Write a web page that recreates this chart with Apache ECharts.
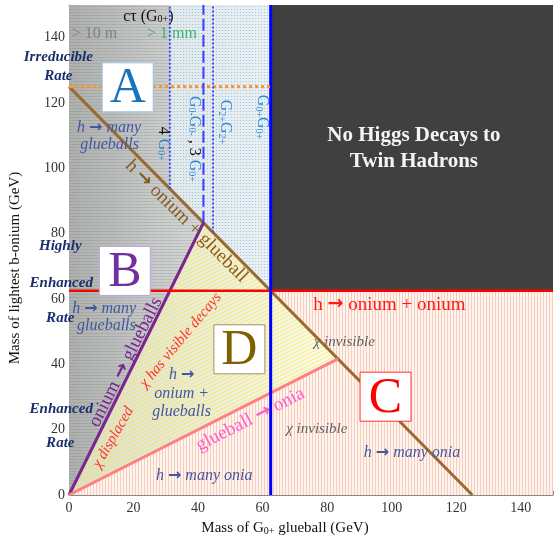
<!DOCTYPE html>
<html lang="en">
<head>
<meta charset="UTF-8">
<title>Twin hadron decay regions</title>
<script src="https://cdn.jsdelivr.net/npm/echarts@6/dist/echarts.min.js"></script>
<style>
  body { margin: 0; background: #fff; }
  #chart { width: 556px; height: 541px; }
</style>
</head>
<body>
<div id="chart"></div>
<script>
const serif = '"Liberation Serif", "DejaVu Serif", serif';

// regions in (glueball mass, onium mass), GeV
const greyZone = [[0, 0], [41.67, 83.33], [62.5, 62.5], [62.5, 150], [0, 150]];
const dotZone = [[31.25, 93.75], [31.25, 150], [62.5, 150], [62.5, 62.5]];
const yellowZone = [[0, 0], [41.67, 83.33], [83.33, 41.67]];
const salmonZone = [[0, 0], [83.33, 41.67], [62.5, 62.5], [150, 62.5], [150, 0]];
const darkZone = [[62.5, 62.5], [62.5, 150], [150, 150], [150, 62.5]];

// boundaries
const brownLine = [[0, 125], [125, 0]];
const purpleLine = [[0, 0], [41.67, 83.33]];
const pinkLine = [[0, 0], [83.33, 41.67]];
const redLine = [[0, 62.5], [150, 62.5]];
const blueLine = [[62.5, 0], [62.5, 150]];
const orangeLine = [[0, 125], [62.5, 125]];
const fourG0Line = [[31.25, 93.75], [31.25, 150]];
const threeG0Line = [[41.67, 83.33], [41.67, 150]];
const g2Line = [[44.64, 80.36], [44.64, 150]];

const xTicks = [0, 20, 40, 60, 80, 100, 120, 140];
const yTicks = [0, 20, 40, 60, 80, 100, 120, 140];

function pattern(w, h, draw) {
    const c = document.createElement('canvas');
    c.width = w; c.height = h;
    draw(c.getContext('2d'));
    return { image: c, repeat: 'repeat' };
}
const hStripes = pattern(4, 3, ctx => {
    ctx.fillStyle = 'rgba(110,110,110,0.2)';
    ctx.fillRect(0, 0, 4, 1);
});
const blueDots = pattern(3, 3, ctx => {
    ctx.fillStyle = 'rgba(80,150,215,0.4)';
    ctx.fillRect(0, 0, 1, 1);
});
const yStripes = pattern(8, 4, ctx => {
    ctx.strokeStyle = 'rgba(240,230,70,0.6)';
    ctx.lineWidth = 1.1;
    ctx.beginPath();
    for (let o = -8; o <= 16; o += 4) { ctx.moveTo(0, o + 4); ctx.lineTo(8, o); }
    ctx.stroke();
});
const vStripes = pattern(3, 1, ctx => {
    ctx.fillStyle = '#fff5f0'; ctx.fillRect(0, 0, 3, 1);
    ctx.fillStyle = '#f9cbb8'; ctx.fillRect(0, 0, 1, 1);
});
function hGrad(a, b) {
    return { type: 'linear', x: 0, y: 0, x2: 1, y2: 0, colorStops: [{ offset: 0, color: a }, { offset: 1, color: b }] };
}

const zones = [
    { pts: salmonZone, fills: [vStripes] },
    { pts: yellowZone, fills: [hGrad('#dcdccc', '#fdfdea'), yStripes] },
    { pts: greyZone, fills: [hGrad('#adb0ad', '#e9eeee'), hStripes] },
    { pts: dotZone, fills: ['rgba(232,241,245,0.75)', blueDots] },
    { pts: darkZone, fills: ['#404040'] }
];

const lines = [
    { d: brownLine, c: '#9a6a30', w: 3, t: 'solid' },
    { d: purpleLine, c: '#7a2590', w: 3, t: 'solid' },
    { d: pinkLine, c: '#ff8080', w: 3, t: 'solid' },
    { d: redLine, c: '#ff0000', w: 2.5, t: 'solid' },
    { d: blueLine, c: '#0000ff', w: 3, t: 'solid' },
    { d: orangeLine, c: '#ff9324', w: 3, t: [3, 3] },
    { d: fourG0Line, c: '#2c3cff', w: 1.8, t: [2, 2] },
    { d: threeG0Line, c: '#3a3aff', w: 2, t: [12, 4] },
    { d: g2Line, c: '#2c3cff', w: 1.8, t: [2, 2] }
];

const notes = [
    { t: 'cτ (G{u|0+})', x: 24.6, y: 146.4, c: '#111', s: 16 },
    { t: '> 10 m', x: 7.9, y: 141.2, c: '#808080', s: 16 },
    { t: '> 1 mm', x: 31.9, y: 141.2, c: '#3cb46e', s: 16 },
    { t: 'Irreducible', x: -3.3, y: 133.9, c: '#1b2f6e', s: 15, i: 1, b: 1 },
    { t: 'Rate', x: -3.3, y: 128.2, c: '#1b2f6e', s: 15, i: 1, b: 1 },
    { t: 'Highly', x: -2.7, y: 76.2, c: '#1b2f6e', s: 15, i: 1, b: 1 },
    { t: 'Enhanced', x: -2.4, y: 65.0, c: '#1b2f6e', s: 15, i: 1, b: 1 },
    { t: 'Rate', x: -2.7, y: 54.1, c: '#1b2f6e', s: 15, i: 1, b: 1 },
    { t: 'Enhanced', x: -2.4, y: 26.4, c: '#1b2f6e', s: 15, i: 1, b: 1 },
    { t: 'Rate', x: -2.7, y: 15.8, c: '#1b2f6e', s: 15, i: 1, b: 1 },
    { t: 'h → many', x: 12.4, y: 112.3, c: '#44579e', s: 16, i: 1 },
    { t: 'glueballs', x: 12.6, y: 107.2, c: '#44579e', s: 16, i: 1 },
    { t: 'h → many', x: 10.9, y: 57.0, c: '#44579e', s: 16, i: 1 },
    { t: 'glueballs', x: 11.6, y: 51.9, c: '#44579e', s: 16, i: 1 },
    { t: 'h → onium + glueball', x: 36.4, y: 83.8, c: '#8b5a1c', s: 19, r: -45 },
    { t: '{k|4 }G{u|0+}', x: 29.2, y: 107.5, c: '#2b80d4', s: 16, r: -90 },
    { t: 'G{u|0-}G{u|0-}{k| , 3 }G{u|0+}', x: 38.9, y: 109.0, c: '#2b8ad6', s: 16, r: -90 },
    { t: 'G{u|2+}G{u|2+}', x: 48.3, y: 114.2, c: '#2b8ad6', s: 16, r: -90 },
    { t: 'G{u|0+}G{u|0+}', x: 59.8, y: 115.7, c: '#2b8ad6', s: 16, r: -90 },
    { t: 'No Higgs Decays to', x: 106.9, y: 109.9, c: '#f4f4f4', s: 21, b: 1 },
    { t: 'Twin Hadrons', x: 106.9, y: 102.0, c: '#f4f4f4', s: 21, b: 1 },
    { t: 'h → onium + onium', x: 99.3, y: 58.3, c: '#ff1a1a', s: 19 },
    { t: 'χ invisible', x: 85.3, y: 46.8, c: '#606060', s: 15, i: 1 },
    { t: 'χ invisible', x: 76.8, y: 20.3, c: '#606060', s: 15, i: 1 },
    { t: 'h → many onia', x: 106.3, y: 12.8, c: '#44579e', s: 16, i: 1 },
    { t: 'h → many onia', x: 41.9, y: 5.8, c: '#44579e', s: 16, i: 1 },
    { t: 'h →', x: 34.9, y: 36.7, c: '#44579e', s: 16, i: 1 },
    { t: 'onium +', x: 34.9, y: 31.0, c: '#44579e', s: 16, i: 1 },
    { t: 'glueballs', x: 34.9, y: 25.5, c: '#44579e', s: 16, i: 1 },
    { t: 'onium → glueballs', x: 17.6, y: 40.7, c: '#7a2590', s: 19, r: 63.4 },
    { t: 'χ has visible decays', x: 34.6, y: 47.4, c: '#ff3030', s: 15, i: 1, r: 50 },
    { t: 'χ displaced', x: 13.7, y: 17.6, c: '#ff3030', s: 15, i: 1, r: 60 },
    { t: 'glueball → onia', x: 56.2, y: 23.1, c: '#ff5cc8', s: 19, r: 27 }
];

const boxes = [
    { t: 'A', x: 18.2, y: 124.8, c: '#1a72bb', b: '#9dc3e6' },
    { t: 'B', x: 17.3, y: 68.6, c: '#7030a0', b: '#b9a2d6' },
    { t: 'D', x: 52.8, y: 44.6, c: '#7f6000', b: '#a89060' },
    { t: 'C', x: 98.1, y: 30.1, c: '#ff0000', b: '#ff3030' }
];

const chart = echarts.init(document.getElementById('chart'));

const series = [];
series.push({
    type: 'custom', z: 1, silent: true,
    data: zones.map((z, i) => [i]),
    renderItem: function (params, api) {
        const z = zones[params.dataIndex];
        const pts = z.pts.map(p => api.coord(p));
        return {
            type: 'group',
            children: z.fills.map(f => ({ type: 'polygon', shape: { points: pts }, style: { fill: f } }))
        };
    }
});
lines.forEach(l => {
    series.push({
        type: 'line', z: 3, silent: true, showSymbol: false, animation: false,
        data: l.d,
        lineStyle: { color: l.c, width: l.w, type: l.t }
    });
});
series.push({
    type: 'custom', z: 5, silent: true,
    data: boxes.map((b, i) => [i]),
    renderItem: function (params, api) {
        const b = boxes[params.dataIndex];
        const p = api.coord([b.x, b.y]);
        return {
            type: 'group', x: p[0], y: p[1],
            children: [
                { type: 'rect', shape: { x: -25.5, y: -24.5, width: 51, height: 49 }, style: { fill: '#fff', stroke: b.b, lineWidth: 1 } },
                { type: 'text', style: { text: b.t, x: 0, y: 2, align: 'center', verticalAlign: 'middle', fill: b.c, fontSize: 50, fontFamily: serif } }
            ]
        };
    }
});
series.push({
    type: 'custom', z: 6, silent: true,
    data: notes.map((n, i) => [i]),
    renderItem: function (params, api) {
        const n = notes[params.dataIndex];
        const p = api.coord([n.x, n.y]);
        const style = {
            fill: n.c, fontSize: n.s, fontFamily: serif,
            fontStyle: n.i ? 'italic' : 'normal', fontWeight: n.b ? 'bold' : 'normal'
        };
        return {
            type: 'text', x: p[0], y: p[1], rotation: (n.r || 0) * Math.PI / 180,
            style: Object.assign({
                text: n.t.replace(/→/g, '{a|→}'), x: 0, y: 0, align: 'center', verticalAlign: 'middle',
                rich: {
                    a: { fill: n.c, fontSize: n.s, fontFamily: '"DejaVu Sans", sans-serif', fontWeight: 'bold' },
                    u: { fill: n.c, fontSize: 10, fontFamily: serif, verticalAlign: 'bottom' },
                    k: { fill: '#111', fontSize: n.s, fontFamily: serif }
                }
            }, style)
        };
    }
});

const option = {
    animation: false,
    grid: { left: 69, right: -7, top: 5, bottom: 42 },
    xAxis: [{
        type: 'value', min: 0, max: 150, interval: 20,
        name: 'Mass of G{s|0+} glueball (GeV)', nameLocation: 'middle', nameGap: 26,
        nameTextStyle: { fontFamily: serif, fontSize: 15, color: '#111', padding: [0, 52, 0, 0], rich: { s: { fontSize: 10, verticalAlign: 'bottom', fontFamily: serif, color: '#111' } } },
        axisLine: { lineStyle: { color: '#888' } },
        axisTick: { inside: true, length: 4, lineStyle: { color: '#888' } },
        axisLabel: { fontFamily: serif, fontSize: 14, color: '#333', margin: 6,
            formatter: v => xTicks.includes(v) ? String(v) : '' },
        splitLine: { show: false }
    }, {
        type: 'value', position: 'top', min: 0, max: 150,
        axisLine: { show: true, lineStyle: { color: '#aaa' } },
        axisTick: { show: false }, axisLabel: { show: false }, splitLine: { show: false }
    }],
    yAxis: {
        type: 'value', min: 0, max: 150, interval: 20,
        name: 'Mass of lightest b-onium (GeV)', nameLocation: 'middle', nameGap: 46,
        nameTextStyle: { fontFamily: serif, fontSize: 15, color: '#111', padding: [0, 36, 0, 0] },
        axisLine: { show: true, lineStyle: { color: '#888' } },
        axisTick: { inside: true, length: 4, lineStyle: { color: '#888' } },
        axisLabel: { fontFamily: serif, fontSize: 14, color: '#333', margin: 4,
            formatter: v => yTicks.includes(v) ? String(v) : '' },
        splitLine: { show: false }
    },
    series: series
};
chart.setOption(option);
</script>
</body>
</html>
